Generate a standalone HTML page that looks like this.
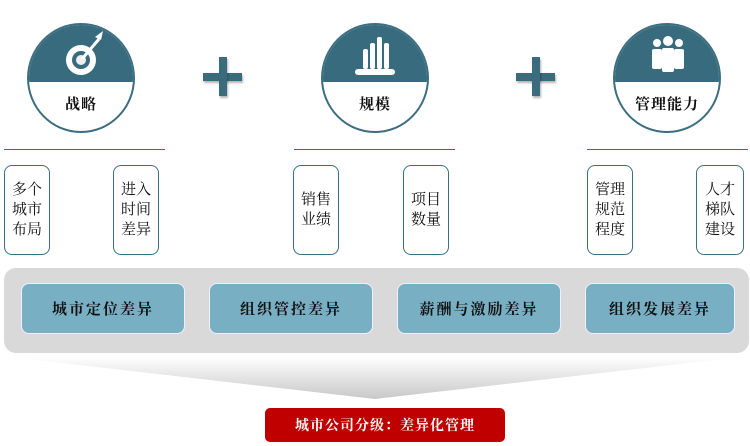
<!DOCTYPE html>
<html><head><meta charset="utf-8"><style>
body{margin:0;width:750px;height:446px;background:#fff;position:relative;overflow:hidden;font-family:"Liberation Serif","Noto Serif CJK SC",serif;}
.c{position:absolute;width:108px;height:110px;border-radius:50%;border:2px solid #3b6e80;overflow:hidden;background:#fff;top:23px;box-sizing:border-box}
.c .t{position:absolute;left:0;right:0;top:0;height:57px;background:#376b7d}
.c .l{position:absolute;left:0;right:0;top:68px;text-align:center;font-size:15px;font-weight:bold;color:#111;letter-spacing:1px}
.ln{position:absolute;top:149px;height:1px;background:#3b6e80}
.b{position:absolute;top:165px;width:46px;height:90px;border:1.5px solid #3b6e80;border-radius:8px;box-sizing:border-box;display:flex;align-items:center;justify-content:center;text-align:center;font-size:15px;line-height:20px;color:#111}
.p{position:absolute;background:#3a6c7e;box-shadow:1px 2px 2px rgba(0,0,0,.3)}
.g{position:absolute;left:4px;top:268px;width:745px;height:85px;background:#d9d9d9;border-radius:12px}
.i{position:absolute;top:283px;height:51px;background:#79afc3;border:1px solid #eef;border-radius:8px;box-sizing:border-box;display:flex;align-items:center;justify-content:center;font-size:15px;font-weight:bold;color:#111;letter-spacing:2px}
.r{position:absolute;left:265px;top:408px;width:240px;height:34px;background:#c00000;border-radius:5px;color:#fff;font-size:14px;font-weight:bold;display:flex;align-items:center;justify-content:center;letter-spacing:1px}
</style></head><body>
<div class="c" style="left:27px"><div class="t"><svg width="106" height="58" viewBox="0 0 106 58"><circle cx="52" cy="35" r="15" fill="#fff"/><circle cx="52" cy="35" r="9" fill="#376b7d"/><circle cx="52" cy="35" r="5" fill="#eee"/><line x1="53" y1="34" x2="70" y2="14" stroke="#fff" stroke-width="3"/><path d="M66 12 l8 -6 l-2 9 z" fill="#fff"/></svg></div><div class="l">战略</div></div>
<div class="c" style="left:321px"><div class="t"><svg width="106" height="58" viewBox="0 0 106 58"><rect x="40" y="24" width="5" height="20" rx="2" fill="#fff"/><rect x="47" y="18" width="5" height="26" rx="2" fill="#fff"/><rect x="54" y="12" width="5" height="32" rx="2" fill="#fff"/><rect x="61" y="18" width="5" height="26" rx="2" fill="#fff"/><rect x="32" y="44" width="40" height="6" rx="3" fill="#fff"/></svg></div><div class="l">规模</div></div>
<div class="c" style="left:613px"><div class="t"><svg width="106" height="58" viewBox="0 0 106 58"><circle cx="42" cy="18" r="4" fill="#fff"/><circle cx="53" cy="16" r="5" fill="#fff"/><circle cx="64" cy="18" r="4" fill="#fff"/><rect x="37" y="24" width="10" height="20" rx="2" fill="#fff"/><rect x="47" y="23" width="12" height="24" rx="2" fill="#fff"/><rect x="59" y="24" width="10" height="20" rx="2" fill="#fff"/></svg></div><div class="l">管理能力</div></div>
<div class="p" style="left:203px;top:73px;width:39px;height:8px"></div><div class="p" style="left:219px;top:57px;width:8px;height:39px"></div>
<div class="p" style="left:516px;top:73px;width:39px;height:8px"></div><div class="p" style="left:532px;top:57px;width:8px;height:39px"></div>
<div class="ln" style="left:4px;width:161px"></div><div class="ln" style="left:294px;width:161px"></div><div class="ln" style="left:587px;width:161px"></div>
<div class="b" style="left:4px">多个<br>城市<br>布局</div>
<div class="b" style="left:113px">进入<br>时间<br>差异</div>
<div class="b" style="left:293px">销售<br>业绩</div>
<div class="b" style="left:403px">项目<br>数量</div>
<div class="b" style="left:587px">管理<br>规范<br>程度</div>
<div class="b" style="left:696px;width:48px">人才<br>梯队<br>建设</div>
<div class="g"></div>
<div class="i" style="left:21px;width:164px">城市定位差异</div>
<div class="i" style="left:209px;width:164px">组织管控差异</div>
<div class="i" style="left:397px;width:164px">薪酬与激励差异</div>
<div class="i" style="left:585px;width:150px">组织发展差异</div>
<svg style="position:absolute;left:0;top:355px" width="750" height="46"><defs><linearGradient id="f" x1="0" y1="0" x2="0" y2="1"><stop offset="0" stop-color="#fff"/><stop offset="1" stop-color="#c8c8c8"/></linearGradient></defs><polygon points="10,2 740,2 375,44" fill="url(#f)"/></svg>
<div class="r">城市公司分级：差异化管理</div>
</body></html>
